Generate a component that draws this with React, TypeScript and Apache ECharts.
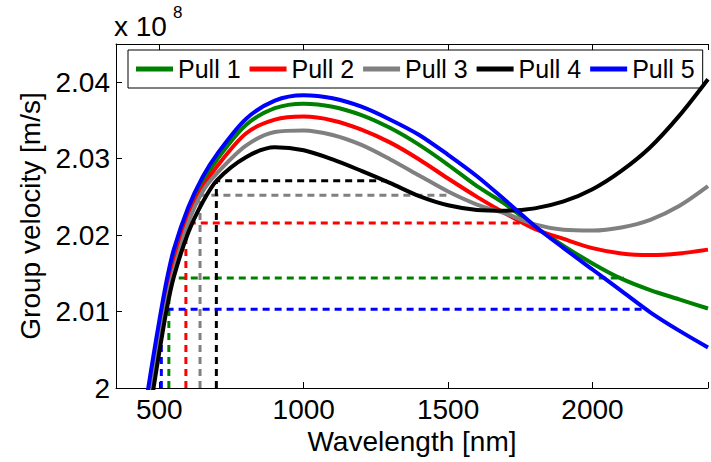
import React, { useEffect, useRef } from "react";
import * as echarts from "echarts";

// Wavelength samples [nm]
const wavelengths = [460, 480, 500, 525, 550, 600, 650, 700, 800, 900, 1000, 1100, 1200, 1300, 1400, 1500, 1600, 1700, 1800, 1900, 2000, 2100, 2200, 2300, 2400];

// Group velocity [x 10^8 m/s]
const pull1 = [1.9982, 2.0027, 2.0073, 2.0128, 2.0172, 2.0229, 2.0269, 2.0299, 2.0344, 2.0366, 2.0372, 2.0368, 2.0357, 2.0340, 2.0318, 2.0292, 2.0264, 2.0240, 2.0211, 2.0186, 2.0163, 2.0143, 2.0128, 2.0116, 2.0104];
const pull2 = [1.9978, 2.0022, 2.0066, 2.0119, 2.0160, 2.0224, 2.0262, 2.0290, 2.0333, 2.0351, 2.0355, 2.0350, 2.0338, 2.0321, 2.0299, 2.0274, 2.0250, 2.0228, 2.0208, 2.0195, 2.0183, 2.0176, 2.0174, 2.0176, 2.0181];
const pull3 = [1.9972, 2.0016, 2.0060, 2.0112, 2.0153, 2.0216, 2.0257, 2.0281, 2.0317, 2.0335, 2.0337, 2.0331, 2.0318, 2.0299, 2.0278, 2.0257, 2.0240, 2.0228, 2.0214, 2.0207, 2.0206, 2.0210, 2.0220, 2.0238, 2.0264];
const pull4 = [1.9955, 2.0000, 2.0047, 2.0102, 2.0145, 2.0203, 2.0243, 2.0272, 2.0302, 2.0315, 2.0311, 2.0299, 2.0284, 2.0268, 2.0251, 2.0239, 2.0233, 2.0232, 2.0235, 2.0244, 2.0260, 2.0284, 2.0315, 2.0356, 2.0404];
const pull5 = [1.9996, 2.0043, 2.0088, 2.0140, 2.0181, 2.0236, 2.0276, 2.0306, 2.0352, 2.0376, 2.0383, 2.0379, 2.0368, 2.0351, 2.0331, 2.0305, 2.0277, 2.0245, 2.0212, 2.0183, 2.0155, 2.0127, 2.0099, 2.0075, 2.0053];

const seriesNames = ["Pull 1", "Pull 2", "Pull 3", "Pull 4", "Pull 5"];
const seriesColors = ["#008000", "#ff0000", "#808080", "#000000", "#0000ff"];
const seriesValues = [pull1, pull2, pull3, pull4, pull5];

// Dashed guide lines per pull: corner wavelength, level, right end wavelength
const dashWavelength = [533, 592, 641, 697.5, 507];
const dashLevel = [2.0144, 2.0216, 2.0252, 2.0271, 2.0103];
const dashEnd = [2108, 1751, 1495, 1288, 2188];

const yTicks = [2, 2.01, 2.02, 2.03, 2.04];
const xTicks = [500, 1000, 1500, 2000];

const FONT = "'Liberation Sans', Arial, Helvetica, sans-serif";

export default function App() {
  const ref = useRef<HTMLDivElement>(null);
  useEffect(() => {
    if (!ref.current) return;
    const chart = echarts.init(ref.current, undefined, { renderer: "svg" });

    const dashSeries = seriesNames.map((n, i) => ({
      name: n + " level",
      type: "line",
      data: [
        [dashWavelength[i], 2.0],
        [dashWavelength[i], dashLevel[i]],
        [dashEnd[i], dashLevel[i]],
      ],
      symbol: "none",
      silent: true,
      lineStyle: { color: seriesColors[i], width: 3, type: [7, 5], cap: "butt" },
      z: 2,
    }));

    const mainSeries = seriesNames.map((n, i) => ({
      name: n,
      type: "line",
      data: wavelengths.map((w, j) => [w, seriesValues[i][j]]),
      symbol: "none",
      smooth: 0.3,
      clip: true,
      color: seriesColors[i],
      lineStyle: { color: seriesColors[i], width: 4 },
      z: 3 + i,
    }));

    const xLabelFmt = (v: number) => (xTicks.includes(Math.round(v)) && Math.abs(v - Math.round(v)) < 1e-6 ? String(Math.round(v)) : "");
    const yLabelFmt = (v: number) => {
      const hit = yTicks.find((t) => Math.abs(t - v) < 1e-7);
      return hit === undefined ? "" : String(hit);
    };

    chart.setOption({
      animation: false,
      backgroundColor: "#ffffff",
      grid: { left: 116, right: -8, top: 44, bottom: 74, containLabel: false },
      legend: {
        data: seriesNames,
        left: 128,
        top: 50,
        orient: "horizontal",
        icon: "rect",
        itemWidth: 37,
        itemHeight: 5,
        itemGap: 9,
        padding: [6, 8, 6, 8],
        borderColor: "#000",
        borderWidth: 1,
        backgroundColor: "#fff",
        textStyle: { color: "#000", fontSize: 25, fontFamily: FONT, lineHeight: 26 },
      },
      xAxis: [
        {
          type: "value",
          min: 350,
          max: 2400,
          splitNumber: 4,
          position: "bottom",
          name: "Wavelength [nm]",
          nameLocation: "middle",
          nameGap: 29,
          nameTextStyle: { color: "#000", fontSize: 28, fontFamily: FONT },
          axisLine: { show: true, onZero: false, lineStyle: { color: "#000", width: 1 } },
          axisTick: { show: true, inside: true, length: 6, lineStyle: { color: "#000" } },
          axisLabel: { formatter: xLabelFmt, color: "#000", fontSize: 28, fontFamily: FONT, margin: 7 },
          splitLine: { show: false },
        },
        {
          type: "value",
          min: 350,
          max: 2400,
          splitNumber: 4,
          position: "top",
          axisLine: { show: true, onZero: false, lineStyle: { color: "#000", width: 1 } },
          axisTick: { show: true, inside: true, length: 6, lineStyle: { color: "#000" } },
          axisLabel: { show: false },
          splitLine: { show: false },
        },
      ],
      yAxis: {
        type: "value",
        min: 2,
        max: 2.045,
        interval: 0.01,
        name: "Group velocity [m/s]",
        nameLocation: "middle",
        nameGap: 70,
        nameTextStyle: { color: "#000", fontSize: 28, fontFamily: FONT },
        axisLine: { show: true, lineStyle: { color: "#000", width: 1 } },
        axisTick: { show: true, inside: true, length: 6, lineStyle: { color: "#000" } },
        axisLabel: { formatter: yLabelFmt, color: "#000", fontSize: 28, fontFamily: FONT, margin: 6 },
        splitLine: { show: false },
      },
      graphic: [
        {
          type: "text",
          left: 114,
          top: 12,
          style: { text: "x 10", fill: "#000", font: "28px " + FONT },
        },
        {
          type: "text",
          left: 173,
          top: 4,
          style: { text: "8", fill: "#000", font: "17px " + FONT },
        },
      ],
      series: [...dashSeries, ...mainSeries],
    });

    return () => chart.dispose();
  }, []);

  return <div ref={ref} style={{ position: "fixed", left: 0, top: 0, width: 711, height: 462 }} />;
}
